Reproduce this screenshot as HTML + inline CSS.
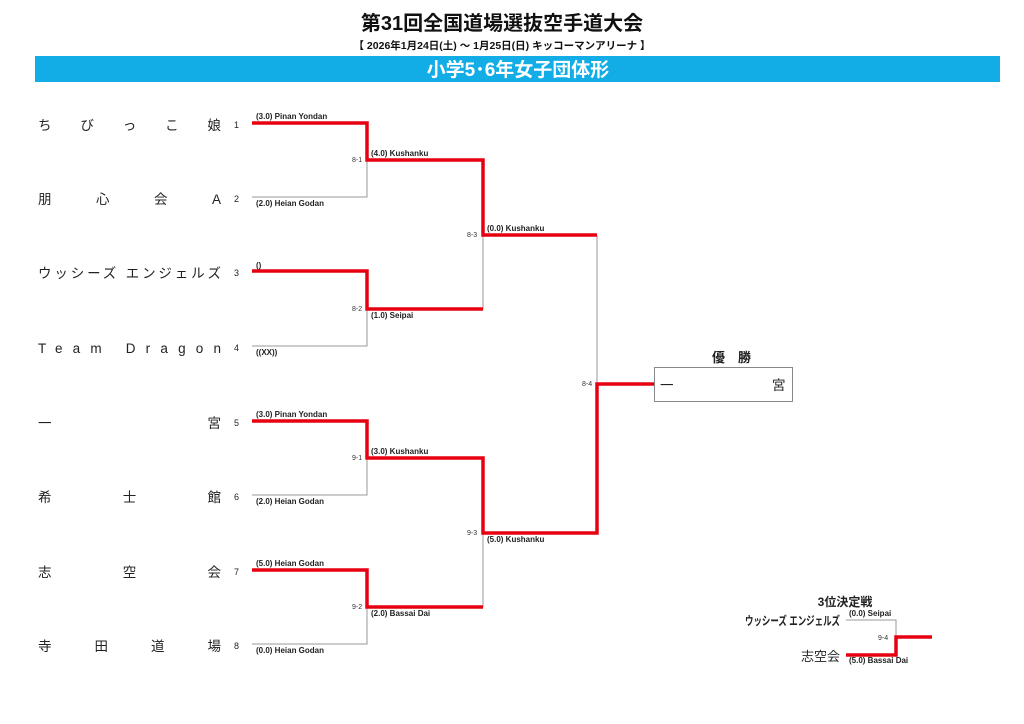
<!DOCTYPE html>
<html><head><meta charset="utf-8"><style>
html,body{margin:0;padding:0;background:#fff;}
svg{display:block;font-family:"Liberation Sans","Noto Sans CJK JP",sans-serif;}
</style></head><body>
<svg width="1024" height="724" viewBox="0 0 1024 724" xmlns="http://www.w3.org/2000/svg">
<text x="502" y="30" text-anchor="middle" font-size="20" font-weight="bold" fill="#111">第31回全国道場選抜空手道大会</text>
<text x="502" y="49" text-anchor="middle" font-size="10.5" font-weight="bold" fill="#111">【 2026年1月24日(土) ～ 1月25日(日)  キッコーマンアリーナ 】</text>
<rect x="35" y="56" width="965" height="26" fill="#12ace6"/>
<text x="518" y="76" text-anchor="middle" font-size="19" font-weight="bold" fill="#fff">小学5･6年女子団体形</text>

<g font-size="13.5" fill="#222">
<text x="38" y="130" textLength="183" lengthAdjust="spacing">ちびっこ娘</text>
<text x="38" y="204" textLength="183" lengthAdjust="spacing">朋心会A</text>
<text x="38" y="278" textLength="183" lengthAdjust="spacing">ウッシーズ エンジェルズ</text>
<text x="38" y="353" textLength="183" lengthAdjust="spacing">Team Dragon</text>
<text x="38" y="428" textLength="183" lengthAdjust="spacing">一宮</text>
<text x="38" y="502" textLength="183" lengthAdjust="spacing">希士館</text>
<text x="38" y="577" textLength="183" lengthAdjust="spacing">志空会</text>
<text x="38" y="651" textLength="183" lengthAdjust="spacing">寺田道場</text>
</g>
<g font-size="9" fill="#222">
<text x="234" y="128">1</text><text x="234" y="202">2</text><text x="234" y="276">3</text><text x="234" y="351">4</text>
<text x="234" y="426">5</text><text x="234" y="500">6</text><text x="234" y="575">7</text><text x="234" y="649">8</text>
</g>

<g stroke="#999" stroke-width="1" fill="none">
<path d="M252 197H367V123"/>
<path d="M252 346H367V271"/>
<path d="M252 495H367V421"/>
<path d="M252 644H367V570"/>
<path d="M483 235V309"/>
<path d="M483 607V533"/>
<path d="M597 235V384"/>
<path d="M846 620H896V637"/>
</g>
<rect x="654.5" y="367.5" width="138" height="34" fill="#fff" stroke="#888" stroke-width="1"/>

<g stroke="#e60012" stroke-width="3.5" fill="none" stroke-linejoin="miter">
<path d="M252 123H367V160H483V235H597"/>
<path d="M252 271H367V309H483"/>
<path d="M252 421H367V458H483V533H597V384H654"/>
<path d="M252 570H367V607H483"/>
<path d="M846 655H896V637H932"/>
</g>

<g font-size="8" fill="#222" font-weight="bold">
<text x="256" y="119">(3.0)  Pinan Yondan</text>
<text x="256" y="206">(2.0)  Heian Godan</text>
<text x="256" y="268">()</text>
<text x="256" y="355">((XX))</text>
<text x="256" y="417">(3.0)  Pinan Yondan</text>
<text x="256" y="504">(2.0)  Heian Godan</text>
<text x="256" y="566">(5.0)  Heian Godan</text>
<text x="256" y="653">(0.0)  Heian Godan</text>
<text x="371" y="156">(4.0)  Kushanku</text>
<text x="371" y="318">(1.0)  Seipai</text>
<text x="371" y="454">(3.0)  Kushanku</text>
<text x="371" y="616">(2.0)  Bassai Dai</text>
<text x="487" y="231">(0.0)  Kushanku</text>
<text x="487" y="542">(5.0)  Kushanku</text>
<text x="849" y="616">(0.0)  Seipai</text>
<text x="849" y="663">(5.0)  Bassai Dai</text>
</g>
<g font-size="7" fill="#333">
<text x="352" y="162">8-1</text><text x="352" y="311">8-2</text>
<text x="352" y="460">9-1</text><text x="352" y="609">9-2</text>
<text x="467" y="237">8-3</text><text x="467" y="535">9-3</text>
<text x="582" y="386">8-4</text><text x="878" y="640">9-4</text>
</g>

<text x="712" y="362" font-size="13" font-weight="bold" fill="#222">優　勝</text>
<text x="660" y="390" font-size="13.5" fill="#222">一</text>
<text x="772" y="390" font-size="13.5" fill="#222">宮</text>

<text x="845" y="606" text-anchor="middle" font-size="12" font-weight="bold" fill="#222">3位決定戦</text>
<text x="745" y="625" font-size="12" font-weight="bold" fill="#222" textLength="95" lengthAdjust="spacingAndGlyphs">ウッシーズ エンジェルズ</text>
<text x="840" y="661" text-anchor="end" font-size="13" fill="#222">志空会</text>
</svg>
</body></html>
